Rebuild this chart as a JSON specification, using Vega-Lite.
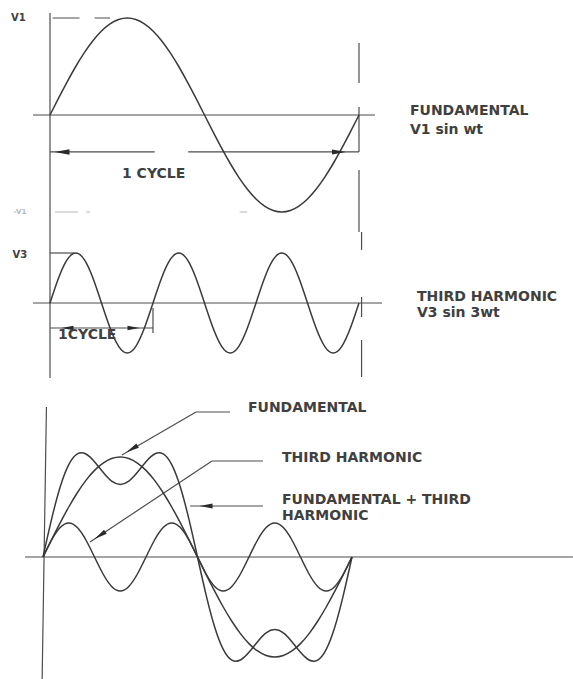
{
  "$schema": "https://vega.github.io/schema/vega-lite/v6.json",
  "background": "white",
  "padding": 0,
  "spacing": 0,
  "bounds": "flush",
  "config": {
    "view": {"stroke": null},
    "text": {"font": "DejaVu Sans", "fontWeight": "bold", "fontSize": 14, "color": "#404040", "align": "left", "baseline": "middle"},
    "rule": {"color": "#4d4d4d", "strokeWidth": 1.2},
    "line": {"color": "#3a3a3a", "strokeWidth": 1.5}
  },
  "datasets": {
    "wave": [
      {"deg": 0, "fundamental": 0, "third_harmonic": 0, "third_bottom": 0, "combined": 0},
      {"deg": 10, "fundamental": 0.1736, "third_harmonic": 0.5, "third_bottom": 0.17, "combined": 0.378},
      {"deg": 20, "fundamental": 0.342, "third_harmonic": 0.866, "third_bottom": 0.294, "combined": 0.7},
      {"deg": 30, "fundamental": 0.5, "third_harmonic": 1, "third_bottom": 0.34, "combined": 0.924},
      {"deg": 40, "fundamental": 0.6428, "third_harmonic": 0.866, "third_bottom": 0.294, "combined": 1.031},
      {"deg": 50, "fundamental": 0.766, "third_harmonic": 0.5, "third_bottom": 0.17, "combined": 1.03},
      {"deg": 60, "fundamental": 0.866, "third_harmonic": 0, "third_bottom": 0, "combined": 0.953},
      {"deg": 70, "fundamental": 0.9397, "third_harmonic": -0.5, "third_bottom": -0.17, "combined": 0.847},
      {"deg": 80, "fundamental": 0.9848, "third_harmonic": -0.866, "third_bottom": -0.294, "combined": 0.759},
      {"deg": 90, "fundamental": 1, "third_harmonic": -1, "third_bottom": -0.34, "combined": 0.726},
      {"deg": 100, "fundamental": 0.9848, "third_harmonic": -0.866, "third_bottom": -0.294, "combined": 0.759},
      {"deg": 110, "fundamental": 0.9397, "third_harmonic": -0.5, "third_bottom": -0.17, "combined": 0.847},
      {"deg": 120, "fundamental": 0.866, "third_harmonic": 0, "third_bottom": 0, "combined": 0.953},
      {"deg": 130, "fundamental": 0.766, "third_harmonic": 0.5, "third_bottom": 0.17, "combined": 1.03},
      {"deg": 140, "fundamental": 0.6428, "third_harmonic": 0.866, "third_bottom": 0.294, "combined": 1.031},
      {"deg": 150, "fundamental": 0.5, "third_harmonic": 1, "third_bottom": 0.34, "combined": 0.924},
      {"deg": 160, "fundamental": 0.342, "third_harmonic": 0.866, "third_bottom": 0.294, "combined": 0.7},
      {"deg": 170, "fundamental": 0.1736, "third_harmonic": 0.5, "third_bottom": 0.17, "combined": 0.378},
      {"deg": 180, "fundamental": 0, "third_harmonic": 0, "third_bottom": 0, "combined": 0},
      {"deg": 190, "fundamental": -0.1736, "third_harmonic": -0.5, "third_bottom": -0.17, "combined": -0.378},
      {"deg": 200, "fundamental": -0.342, "third_harmonic": -0.866, "third_bottom": -0.294, "combined": -0.7},
      {"deg": 210, "fundamental": -0.5, "third_harmonic": -1, "third_bottom": -0.34, "combined": -0.924},
      {"deg": 220, "fundamental": -0.6428, "third_harmonic": -0.866, "third_bottom": -0.294, "combined": -1.031},
      {"deg": 230, "fundamental": -0.766, "third_harmonic": -0.5, "third_bottom": -0.17, "combined": -1.03},
      {"deg": 240, "fundamental": -0.866, "third_harmonic": 0, "third_bottom": 0, "combined": -0.953},
      {"deg": 250, "fundamental": -0.9397, "third_harmonic": 0.5, "third_bottom": 0.17, "combined": -0.847},
      {"deg": 260, "fundamental": -0.9848, "third_harmonic": 0.866, "third_bottom": 0.294, "combined": -0.759},
      {"deg": 270, "fundamental": -1, "third_harmonic": 1, "third_bottom": 0.34, "combined": -0.726},
      {"deg": 280, "fundamental": -0.9848, "third_harmonic": 0.866, "third_bottom": 0.294, "combined": -0.759},
      {"deg": 290, "fundamental": -0.9397, "third_harmonic": 0.5, "third_bottom": 0.17, "combined": -0.847},
      {"deg": 300, "fundamental": -0.866, "third_harmonic": 0, "third_bottom": 0, "combined": -0.953},
      {"deg": 310, "fundamental": -0.766, "third_harmonic": -0.5, "third_bottom": -0.17, "combined": -1.03},
      {"deg": 320, "fundamental": -0.6428, "third_harmonic": -0.866, "third_bottom": -0.294, "combined": -1.031},
      {"deg": 330, "fundamental": -0.5, "third_harmonic": -1, "third_bottom": -0.34, "combined": -0.924},
      {"deg": 340, "fundamental": -0.342, "third_harmonic": -0.866, "third_bottom": -0.294, "combined": -0.7},
      {"deg": 350, "fundamental": -0.1736, "third_harmonic": -0.5, "third_bottom": -0.17, "combined": -0.378},
      {"deg": 360, "fundamental": 0, "third_harmonic": 0, "third_bottom": 0, "combined": 0}
    ]
  },
  "vconcat": [
    {
      "width": 573,
      "height": 232,
      "encoding": {
        "x": {"field": "deg", "type": "quantitative", "scale": {"domain": [-58.25, 609.34], "nice": false, "zero": false}, "axis": null},
        "y": {"field": "v", "type": "quantitative", "scale": {"domain": [-1.2062, 1.1856], "nice": false, "zero": false}, "axis": null}
      },
      "layer": [
        {
          "data": {"values": [
            {"deg": 0, "deg2": 0, "v": 1.052, "v2": -1.2062},
            {"deg": -19.8, "deg2": 378.7, "v": 0, "v2": 0},
            {"deg": 0, "deg2": 122, "v": -0.381, "v2": -0.381},
            {"deg": 161, "deg2": 360, "v": -0.381, "v2": -0.381},
            {"deg": 360, "deg2": 360, "v": 0.742, "v2": 0.33},
            {"deg": 360, "deg2": 360, "v": 0.082, "v2": -0.381},
            {"deg": 360, "deg2": 360, "v": -0.567, "v2": -1.2062}
          ]},
          "mark": {"type": "rule"},
          "encoding": {"x2": {"field": "deg2"}, "y2": {"field": "v2"}}
        },
        {
          "data": {"values": [{"deg": 3, "deg2": 70, "v": 1, "v2": 1}]},
          "mark": {"type": "rule", "strokeDash": [27, 15]},
          "encoding": {"x2": {"field": "deg2"}, "y2": {"field": "v2"}}
        },
        {
          "data": {"values": [
            {"deg": 5.8, "deg2": 32.6, "v": -1, "v2": -1},
            {"deg": 42, "deg2": 46.6, "v": -1, "v2": -1},
            {"deg": 221, "deg2": 229.5, "v": -1, "v2": -1}
          ]},
          "mark": {"type": "rule", "color": "#c4c4c4"},
          "encoding": {"x2": {"field": "deg2"}, "y2": {"field": "v2"}}
        },
        {
          "data": {"name": "wave"},
          "transform": [{"fold": ["fundamental"], "as": ["series", "v"]}],
          "mark": {"type": "line", "interpolate": "natural"},
          "encoding": {"detail": {"field": "series"}}
        },
        {
          "data": {"values": [{"deg": 14, "v": -0.381}]},
          "mark": {"type": "point", "shape": "M-1,0L1,-0.36L1,0.36Z", "size": 225, "filled": true, "color": "#2a2a2a", "opacity": 1, "strokeWidth": 0}
        },
        {
          "data": {"values": [{"deg": 336.7, "v": -0.381}]},
          "mark": {"type": "point", "shape": "M1,0L-1,-0.36L-1,0.36Z", "size": 196, "filled": true, "color": "#2a2a2a", "opacity": 1, "strokeWidth": 0}
        },
        {
          "data": {"values": [{"deg": -37, "v": 1.0, "label": "V1"}]},
          "mark": {"type": "text", "fontSize": 10, "align": "center"},
          "encoding": {"text": {"field": "label"}}
        },
        {
          "data": {"values": [{"deg": -35, "v": -1.0, "label": "-V1"}]},
          "mark": {"type": "text", "fontSize": 7, "align": "center", "color": "#b8b8b8"},
          "encoding": {"text": {"field": "label"}}
        },
        {
          "data": {"values": [
            {"deg": 83.9, "v": -0.608, "label": "1 CYCLE"},
            {"deg": 419.4, "v": 0.041, "label": "FUNDAMENTAL"},
            {"deg": 419.4, "v": -0.155, "label": "V1 sin wt"}
          ]},
          "mark": {"type": "text"},
          "encoding": {"text": {"field": "label"}}
        }
      ]
    },
    {
      "width": 573,
      "height": 148,
      "encoding": {
        "x": {"field": "deg", "type": "quantitative", "scale": {"domain": [-58.25, 609.34], "nice": false, "zero": false}, "axis": null},
        "y": {"field": "v", "type": "quantitative", "scale": {"domain": [-1.54, 1.42], "nice": false, "zero": false}, "axis": null}
      },
      "layer": [
        {
          "data": {"values": [
            {"deg": 0, "deg2": 0, "v": 1.42, "v2": -1.5},
            {"deg": -19.8, "deg2": 386.8, "v": 0, "v2": 0},
            {"deg": 0, "deg2": 28, "v": 1, "v2": 1},
            {"deg": 0, "deg2": 120, "v": -0.5, "v2": -0.5},
            {"deg": 120, "deg2": 120, "v": -0.1, "v2": -0.6},
            {"deg": 363, "deg2": 363, "v": 1.42, "v2": 1.06},
            {"deg": 363, "deg2": 363, "v": 0.12, "v2": -0.28},
            {"deg": 363, "deg2": 363, "v": -0.74, "v2": -1.48}
          ]},
          "mark": {"type": "rule"},
          "encoding": {"x2": {"field": "deg2"}, "y2": {"field": "v2"}}
        },
        {
          "data": {"name": "wave"},
          "transform": [{"fold": ["third_harmonic"], "as": ["series", "v"]}],
          "mark": {"type": "line", "interpolate": "natural"},
          "encoding": {"detail": {"field": "series"}}
        },
        {
          "data": {"values": [{"deg": 20.4, "v": -0.5}]},
          "mark": {"type": "point", "shape": "M-1,0L1,-0.38L1,0.38Z", "size": 144, "filled": true, "color": "#2a2a2a", "opacity": 1, "strokeWidth": 0}
        },
        {
          "data": {"values": [{"deg": 97.3, "v": -0.5}]},
          "mark": {"type": "point", "shape": "M1,0L-1,-0.38L-1,0.38Z", "size": 144, "filled": true, "color": "#2a2a2a", "opacity": 1, "strokeWidth": 0}
        },
        {
          "data": {"values": [{"deg": -35, "v": 0.96, "label": "V3"}]},
          "mark": {"type": "text", "fontSize": 10, "align": "center"},
          "encoding": {"text": {"field": "label"}}
        },
        {
          "data": {"values": [
            {"deg": 9.3, "v": -0.64, "label": "1CYCLE"},
            {"deg": 427.6, "v": 0.12, "label": "THIRD HARMONIC"},
            {"deg": 427.6, "v": -0.2, "label": "V3 sin 3wt"}
          ]},
          "mark": {"type": "text"},
          "encoding": {"text": {"field": "label"}}
        }
      ]
    },
    {
      "width": 573,
      "height": 299,
      "encoding": {
        "x": {"field": "deg", "type": "quantitative", "scale": {"domain": [-50.1, 617.5], "nice": false, "zero": false}, "axis": null},
        "y": {"field": "v", "type": "quantitative", "scale": {"domain": [-1.22, 1.77], "nice": false, "zero": false}, "axis": null}
      },
      "layer": [
        {
          "data": {"values": [
            {"deg": 4, "deg2": -1, "v": 1.5, "v2": -1.22},
            {"deg": -21, "deg2": 617.5, "v": 0, "v2": 0},
            {"deg": 92, "deg2": 178.3, "v": 1.02, "v2": 1.45},
            {"deg": 178.3, "deg2": 217.9, "v": 1.45, "v2": 1.45},
            {"deg": 54.8, "deg2": 196.9, "v": 0.15, "v2": 0.96},
            {"deg": 196.9, "deg2": 256.3, "v": 0.96, "v2": 0.96},
            {"deg": 171.3, "deg2": 256.3, "v": 0.51, "v2": 0.51}
          ]},
          "mark": {"type": "rule"},
          "encoding": {"x2": {"field": "deg2"}, "y2": {"field": "v2"}}
        },
        {
          "data": {"name": "wave"},
          "transform": [{"fold": ["fundamental", "third_bottom", "combined"], "as": ["series", "v"]}],
          "mark": {"type": "line", "interpolate": "natural"},
          "encoding": {"detail": {"field": "series"}}
        },
        {
          "data": {"values": [{"deg": 103.7, "v": 1.08}]},
          "mark": {"type": "point", "shape": "M-1,0L1,-0.38L1,0.38Z", "size": 169, "angle": -30.2, "filled": true, "color": "#2a2a2a", "opacity": 1, "strokeWidth": 0}
        },
        {
          "data": {"values": [{"deg": 66.4, "v": 0.216}]},
          "mark": {"type": "point", "shape": "M-1,0L1,-0.38L1,0.38Z", "size": 169, "angle": -33.6, "filled": true, "color": "#2a2a2a", "opacity": 1, "strokeWidth": 0}
        },
        {
          "data": {"values": [{"deg": 190, "v": 0.51}]},
          "mark": {"type": "point", "shape": "M-1,0L1,-0.38L1,0.38Z", "size": 169, "filled": true, "color": "#2a2a2a", "opacity": 1, "strokeWidth": 0}
        },
        {
          "data": {"values": [
            {"deg": 238.8, "v": 1.49, "label": "FUNDAMENTAL"},
            {"deg": 278.5, "v": 0.99, "label": "THIRD HARMONIC"},
            {"deg": 278.5, "v": 0.57, "label": "FUNDAMENTAL + THIRD"},
            {"deg": 278.5, "v": 0.41, "label": "HARMONIC"}
          ]},
          "mark": {"type": "text"},
          "encoding": {"text": {"field": "label"}}
        }
      ]
    }
  ]
}
